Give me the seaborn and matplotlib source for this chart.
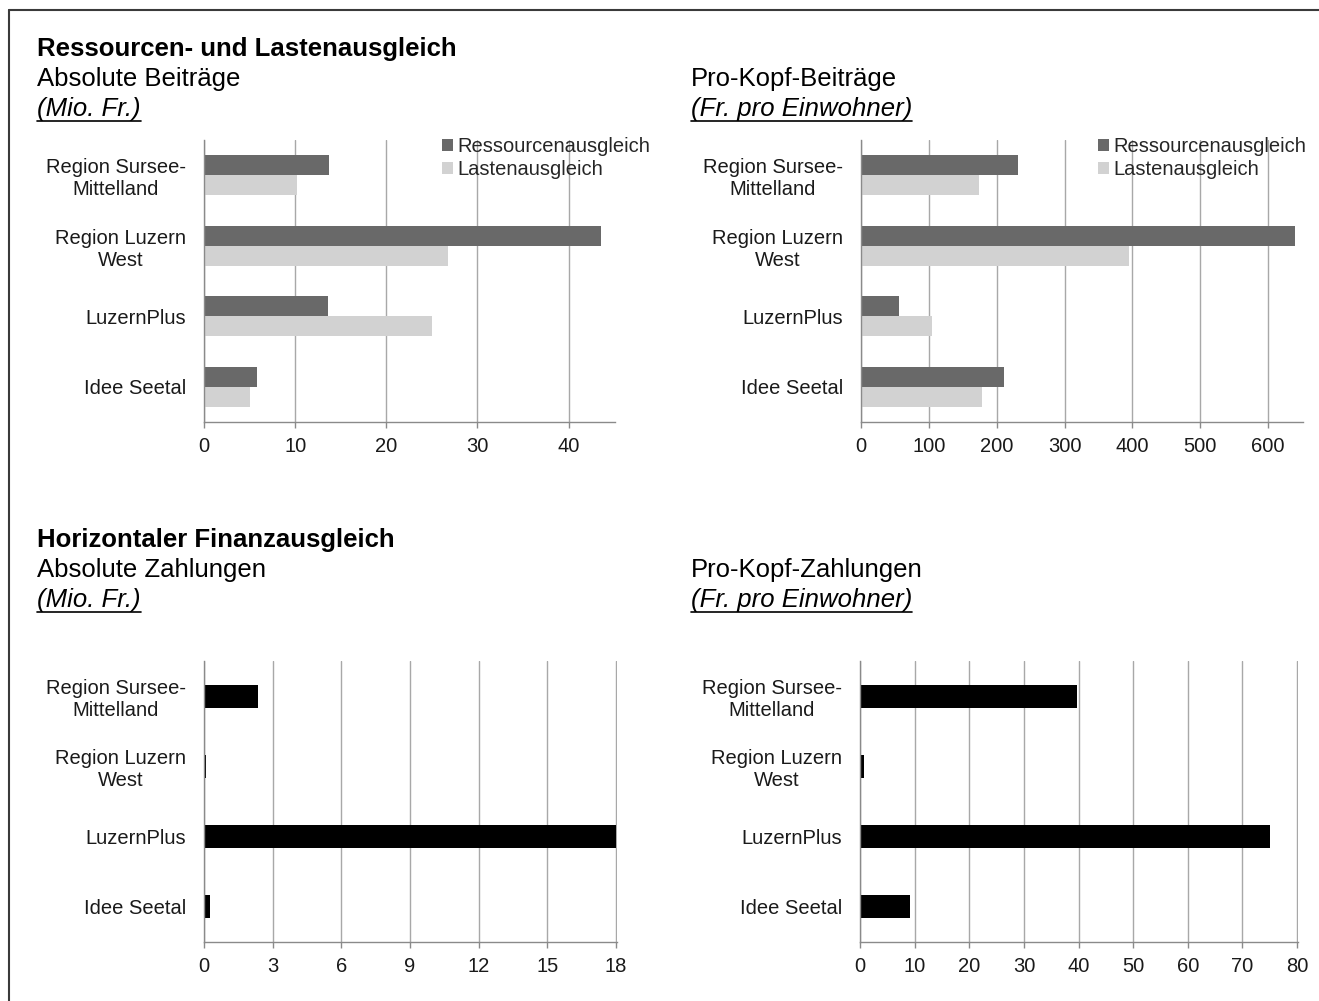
import matplotlib
matplotlib.use("Agg")
import matplotlib.pyplot as plt
from matplotlib.lines import Line2D
import numpy as np
import pandas as pd
import seaborn as sns

# ---- data -------------------------------------------------------------
regions = ["Region Sursee-\nMittelland", "Region Luzern\nWest", "LuzernPlus", "Idee Seetal"]
series = ["Ressourcenausgleich", "Lastenausgleich"]

abs_ressourcen = [13.7, 43.6, 13.6, 5.8]      # Mio. Fr.
abs_lasten = [10.2, 26.8, 25.0, 5.0]
pk_ressourcen = [231, 639, 56, 210]           # Fr. pro Einwohner
pk_lasten = [174, 395, 104, 178]

hfa_abs = [2.37, 0.08, 18.0, 0.26]            # Mio. Fr.
hfa_pk = [39.8, 0.7, 75.1, 9.1]               # Fr. pro Einwohner

# ---- style ------------------------------------------------------------
sns.set_theme(style="white")
plt.rcParams["font.family"] = ["Liberation Sans", "DejaVu Sans"]

DARK = "#696969"
LIGHT = "#d2d2d2"
GRID = "#a8a8a8"
SPINE = "#8a8a8a"
TICK_FS = 14.5
TITLE_FS = 18.5

W, H = 1319, 1001
fig = plt.figure(figsize=(W / 100, H / 100), dpi=100)


def px_axes(left, top, right, bottom):
    return fig.add_axes([left / W, 1 - bottom / H, (right - left) / W, (bottom - top) / H])


def style_axes(ax, xmax, step):
    ticks = np.arange(0, xmax + 0.001, step)
    ax.set_xlim(0, xmax * 1.002)
    ax.set_ylim(3.5, -0.5)
    ax.set_xticks(ticks)
    ax.set_xticklabels([f"{v:g}" for v in ticks])
    ax.set_xlabel("")
    ax.set_ylabel("")
    ax.set_axisbelow(True)
    ax.xaxis.grid(True, color=GRID, lw=1.0)
    ax.yaxis.grid(False)
    for s in ["top", "right"]:
        ax.spines[s].set_visible(False)
    for s in ["left", "bottom"]:
        ax.spines[s].set_visible(True)
        ax.spines[s].set_color(SPINE)
        ax.spines[s].set_linewidth(1.0)
    ax.set_yticks([-0.5, 0.5, 1.5, 2.5, 3.5], minor=True)
    ax.tick_params(axis="y", which="major", length=0, pad=13, labelsize=TICK_FS, colors="#1a1a1a")
    ax.tick_params(axis="y", which="minor", length=4, width=1, color=SPINE, direction="out")
    ax.tick_params(axis="x", which="major", length=4, width=1, color=SPINE, direction="out",
                   pad=7, labelsize=TICK_FS, labelcolor="#1a1a1a")
    ax.tick_params(left=True, bottom=True)
    for lab in ax.get_yticklabels():
        lab.set_multialignment("center")
    ax.set_facecolor("white")


def grouped(ax, r_vals, l_vals, xmax, step, legend_x):
    df = pd.DataFrame({
        "Region": regions * 2,
        "Wert": list(r_vals) + list(l_vals),
        "Serie": [series[0]] * 4 + [series[1]] * 4,
    })
    sns.barplot(data=df, x="Wert", y="Region", hue="Serie", orient="h",
                palette=[DARK, LIGHT], width=0.567, gap=0, saturation=1,
                edgecolor="none", ax=ax)
    handles, labels = ax.get_legend_handles_labels()
    if ax.get_legend() is not None:
        ax.get_legend().remove()
    style_axes(ax, xmax, step)
    fig.legend(handles, labels, loc="upper left",
               bbox_to_anchor=(legend_x / W, 1 - 137 / H),
               frameon=False, fontsize=TICK_FS, handlelength=0.55, handleheight=0.55,
               handletextpad=0.2, labelspacing=0.2, borderpad=0, borderaxespad=0)


def single(ax, vals, xmax, step):
    df = pd.DataFrame({"Region": regions, "Wert": vals})
    sns.barplot(data=df, x="Wert", y="Region", orient="h", color="black",
                saturation=1, width=0.33, edgecolor="none", ax=ax)
    style_axes(ax, xmax, step)


ax_tl = px_axes(204, 140, 615, 422)
grouped(ax_tl, abs_ressourcen, abs_lasten, 45, 10, 442)

ax_tr = px_axes(861, 140, 1303, 422)
grouped(ax_tr, pk_ressourcen, pk_lasten, 650, 100, 1098)

ax_bl = px_axes(204, 661, 617, 942)
single(ax_bl, hfa_abs, 18, 3)

ax_br = px_axes(860, 661, 1298, 942)
single(ax_br, hfa_pk, 80, 10)

# ---- headings ---------------------------------------------------------
def fy(py):
    return 1 - py / H


underlined = []


def heading(x, y, text, **kw):
    return fig.text(x / W, fy(y), text, ha="left", va="baseline", color="black", **kw)


heading(37, 56, "Ressourcen- und Lastenausgleich", fontsize=TITLE_FS, fontweight="bold")
heading(37, 86, "Absolute Beiträge", fontsize=TITLE_FS)
underlined.append(heading(37, 116, "(Mio. Fr.)", fontsize=TITLE_FS, fontstyle="italic"))
heading(691, 86, "Pro-Kopf-Beiträge", fontsize=TITLE_FS)
underlined.append(heading(691, 116, "(Fr. pro Einwohner)", fontsize=TITLE_FS, fontstyle="italic"))

heading(37, 547, "Horizontaler Finanzausgleich", fontsize=TITLE_FS, fontweight="bold")
heading(37, 577, "Absolute Zahlungen", fontsize=TITLE_FS)
underlined.append(heading(37, 607, "(Mio. Fr.)", fontsize=TITLE_FS, fontstyle="italic"))
heading(691, 577, "Pro-Kopf-Zahlungen", fontsize=TITLE_FS)
underlined.append(heading(691, 607, "(Fr. pro Einwohner)", fontsize=TITLE_FS, fontstyle="italic"))

fig.canvas.draw()
renderer = fig.canvas.get_renderer()
for t in underlined:
    bb = t.get_window_extent(renderer)
    y_line = t.get_position()[1] - 5 / H
    fig.add_artist(Line2D([bb.x0 / W, bb.x1 / W], [y_line, y_line],
                          color="black", lw=1.2, transform=fig.transFigure))

# frame around the panel (left and top edges)
fig.add_artist(Line2D([8.5 / W, 8.5 / W], [0, fy(9.5)], color="#3a3a3a", lw=1.5,
                      transform=fig.transFigure))
fig.add_artist(Line2D([8.5 / W, 1], [fy(9.5), fy(9.5)], color="#3a3a3a", lw=1.5,
                      transform=fig.transFigure))

fig.savefig("out.png", dpi=100, facecolor="white")
